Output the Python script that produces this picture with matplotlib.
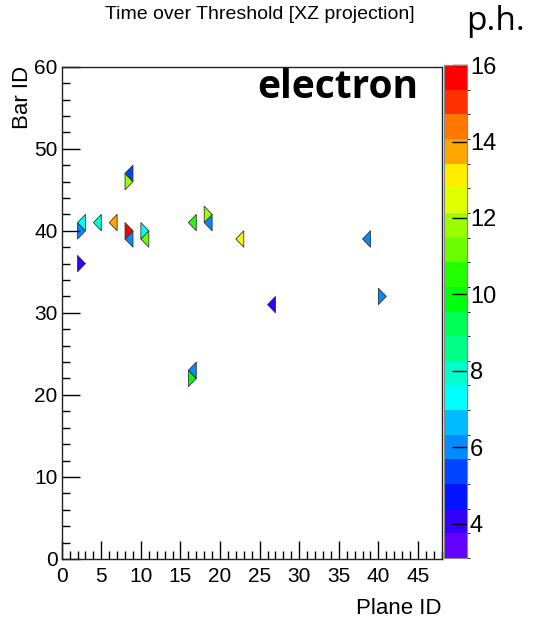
import colorsys
import matplotlib
matplotlib.use('Agg')
import matplotlib.pyplot as plt
from matplotlib.collections import PolyCollection
from matplotlib.colors import ListedColormap, BoundaryNorm
from matplotlib.cm import ScalarMappable
from matplotlib.ticker import MultipleLocator

plt.rcParams['font.family'] = 'Liberation Sans'

## hits: plane, bar and pulse height
planes = [2, 2, 2, 4, 6, 8, 8, 8, 8, 10, 10, 16, 16, 16, 18, 18, 22, 26, 38, 40]
bars = [36, 40, 41, 41, 41, 39, 40, 46, 47, 39, 40, 22, 23, 41, 41, 42, 39, 31, 39, 32]
ph = [4.1, 6.0, 7.3, 7.9, 13.7, 6.0, 15.8, 11.8, 5.4, 11.2, 7.3, 9.6, 6.0, 10.5,
      6.0, 11.8, 13.0, 4.1, 6.0, 6.0]

zmin, zmax, nlev = 3.1, 16.0, 20
cb_ticks = [4, 6, 8, 10, 12, 14, 16]


def root_palette(nlev, ncol=50):
    # old ROOT "pretty" palette (violet -> red) picked at contour levels
    cols = []
    for k in range(nlev):
        idx = int((k + 0.99) * ncol / nlev)
        if idx >= ncol - 1:
            cols.append((1.0, 0.0, 0.0))
        else:
            hue = 280 - (idx + 1) * 280.0 / ncol
            cols.append(colorsys.hls_to_rgb(hue / 360.0, 0.5, 1.0))
    return cols


def triangle(p, b):
    # even bars: base on the left, odd bars: base on the right
    if b % 2 == 0:
        return [(p, b - 1), (p, b + 1), (p + 1, b)]
    return [(p + 1, b - 1), (p + 1, b + 1), (p, b)]


cmap = ListedColormap(root_palette(nlev))
bounds = [zmin + i * (zmax - zmin) / nlev for i in range(nlev + 1)]
norm = BoundaryNorm(bounds, cmap.N)

fig = plt.figure(figsize=(5.33, 6.2), dpi=100)
ax = fig.add_axes([0.1158, 0.0984, 0.7129, 0.794])

polys = PolyCollection([triangle(p, b) for p, b in zip(planes, bars)],
                       cmap=cmap, norm=norm, edgecolors='#333333', linewidths=0.6)
polys.set_array(ph)
ax.add_collection(polys)

ax.set_xlim(0, 48)
ax.set_ylim(0, 60)
ax.xaxis.set_major_locator(MultipleLocator(5))
ax.xaxis.set_minor_locator(MultipleLocator(1))
ax.yaxis.set_major_locator(MultipleLocator(10))
ax.yaxis.set_minor_locator(MultipleLocator(2))
ax.tick_params(which='both', direction='in', top=False, right=False, labelsize=15)
ax.tick_params(which='major', length=13, width=1)
ax.tick_params(which='minor', length=6, width=1)
ax.tick_params(axis='x', pad=6)
ax.tick_params(axis='y', pad=3)
for s in ax.spines.values():
    s.set_color('#222222')
    s.set_linewidth(1)

cax = fig.add_axes([0.833, 0.1, 0.0432, 0.795])
cb = fig.colorbar(ScalarMappable(norm=norm, cmap=cmap), cax=cax, ticks=cb_ticks)
cb.outline.set_edgecolor('#888888')
cax.tick_params(direction='in', length=11, width=1, labelsize=17, pad=2)

fig.text(0.488, 0.976, 'Time over Threshold [XZ projection]', ha='center', va='center',
         fontsize=14)
fig.text(0.93, 0.952, 'p.h.', ha='center', va='baseline', fontsize=24, family='Open Sans')
fig.text(257 / 533, 1 - 98 / 620, 'electron', ha='left', va='baseline', fontsize=28,
         fontweight='bold', family='Open Sans')
fig.text(22 / 533, 1 - 66 / 620, 'Bar ID', rotation=90, ha='center', va='top', fontsize=16)
fig.text(442 / 533, 1 - 614 / 620, 'Plane ID', ha='right', va='baseline', fontsize=16)

fig.savefig('out.png', dpi=100)
plt.close()
